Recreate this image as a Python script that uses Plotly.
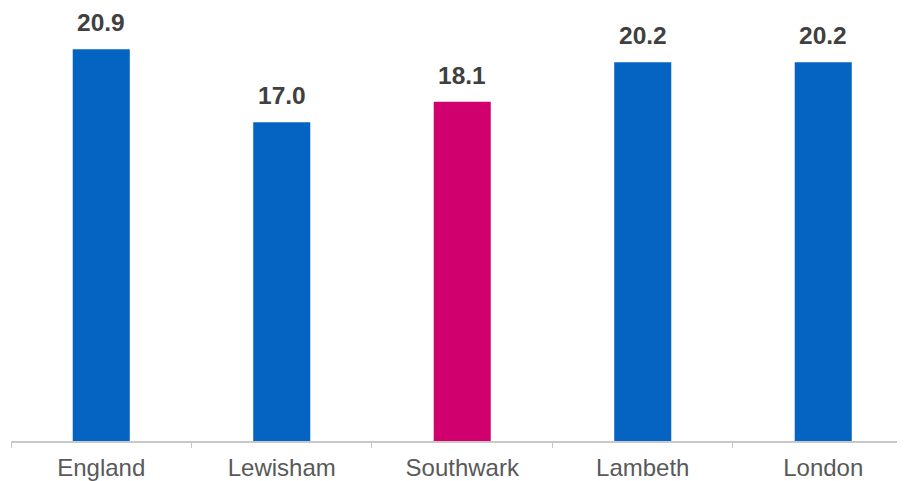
import plotly.graph_objects as go

categories = ["England", "Lewisham", "Southwark", "Lambeth", "London"]
values = [20.9, 17.0, 18.1, 20.2, 20.2]
bar_colors = ["#0563C1", "#0563C1", "#D1006F", "#0563C1", "#0563C1"]
value_labels = ["20.9", "17.0", "18.1", "20.2", "20.2"]

fig = go.Figure()
fig.add_trace(go.Bar(
    x=categories, y=values,
    marker=dict(color=bar_colors, line=dict(width=0)),
    width=0.316,
    hoverinfo="skip",
))

for c, v, t in zip(categories, values, value_labels):
    fig.add_annotation(
        x=c, y=v, text=f"<b>{t}</b>", showarrow=False,
        yanchor="bottom", yshift=11,
        font=dict(family="Liberation Sans, Arial, sans-serif", size=24.5, color="#404040"),
    )

# page body has an 8px margin; figure sized to fill the remaining window
fig.update_layout(
    width=897, height=473,
    margin=dict(l=3, r=0, t=0, b=40, autoexpand=False),
    plot_bgcolor="white", paper_bgcolor="white",
    showlegend=False,
    font=dict(family="Liberation Sans, Arial, sans-serif"),
)
fig.update_xaxes(
    range=[-0.5, 4.453],
    showline=True, linecolor="#C8C8C8", linewidth=1.5,
    ticks="outside", tickson="boundaries", ticklen=5, tickcolor="#C8C8C8", tickwidth=1,
    tickfont=dict(size=24, color="#595959"),
    ticklabelstandoff=4,
    automargin=False,
    showgrid=False, zeroline=False,
)
fig.update_yaxes(range=[0, 23.1], visible=False, showgrid=False, zeroline=False)

fig.write_html("out.html")
